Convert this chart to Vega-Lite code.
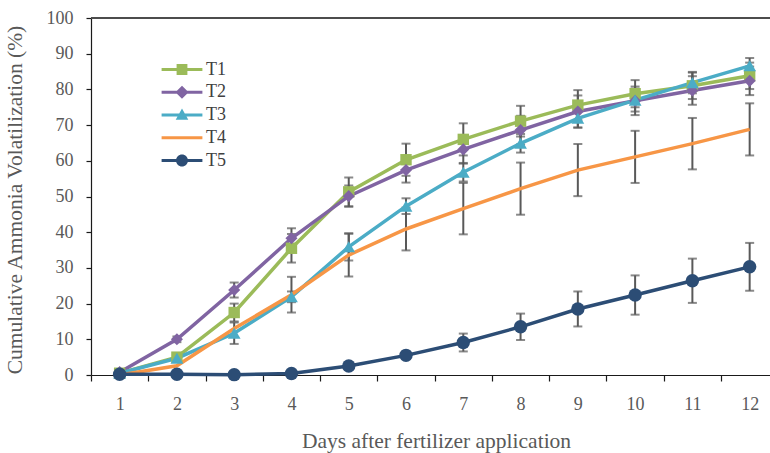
{
  "$schema": "https://vega.github.io/schema/vega-lite/v6.json",
  "width": 679,
  "height": 357,
  "autosize": {"type": "none"},
  "padding": {"left": 91, "top": 18, "right": 0, "bottom": 78},
  "background": "white",
  "config": {
    "view": {"stroke": null},
    "font": "Liberation Serif",
    "axis": {
      "grid": false,
      "domainColor": "#1a1a1a",
      "tickColor": "#1a1a1a",
      "domainWidth": 1.2,
      "tickWidth": 1.2,
      "labelColor": "#595959",
      "labelFont": "Liberation Serif",
      "labelFontSize": 18,
      "titleColor": "#595959",
      "titleFont": "Liberation Serif",
      "titleFontSize": 21.5,
      "titleFontWeight": "normal"
    }
  },
  "data": {
    "values": [
      {"day": 1, "series": "T1", "value": 0.5, "err": 0},
      {"day": 2, "series": "T1", "value": 5.0, "err": 0.8},
      {"day": 3, "series": "T1", "value": 17.5, "err": 2.5},
      {"day": 4, "series": "T1", "value": 35.5, "err": 4.0},
      {"day": 5, "series": "T1", "value": 51.3, "err": 4.0},
      {"day": 6, "series": "T1", "value": 60.3, "err": 4.5},
      {"day": 7, "series": "T1", "value": 66.0, "err": 4.5},
      {"day": 8, "series": "T1", "value": 71.1, "err": 4.3},
      {"day": 9, "series": "T1", "value": 75.6, "err": 4.2},
      {"day": 10, "series": "T1", "value": 78.8, "err": 3.8},
      {"day": 11, "series": "T1", "value": 81.0, "err": 3.7},
      {"day": 12, "series": "T1", "value": 83.8, "err": 3.7},
      {"day": 1, "series": "T2", "value": 0.8, "err": 0},
      {"day": 2, "series": "T2", "value": 10.0, "err": 0.8},
      {"day": 3, "series": "T2", "value": 23.8, "err": 2.1},
      {"day": 4, "series": "T2", "value": 38.3, "err": 2.8},
      {"day": 5, "series": "T2", "value": 50.1, "err": 3.0},
      {"day": 6, "series": "T2", "value": 57.4, "err": 3.5},
      {"day": 7, "series": "T2", "value": 63.2, "err": 4.0},
      {"day": 8, "series": "T2", "value": 68.6, "err": 4.0},
      {"day": 9, "series": "T2", "value": 73.8, "err": 4.5},
      {"day": 10, "series": "T2", "value": 76.8, "err": 4.0},
      {"day": 11, "series": "T2", "value": 79.7, "err": 4.0},
      {"day": 12, "series": "T2", "value": 82.4, "err": 4.0},
      {"day": 1, "series": "T3", "value": 0.5, "err": 0},
      {"day": 2, "series": "T3", "value": 4.7, "err": 0.8},
      {"day": 3, "series": "T3", "value": 11.7, "err": 3.0},
      {"day": 4, "series": "T3", "value": 21.9, "err": 1.5},
      {"day": 5, "series": "T3", "value": 35.9, "err": 3.8},
      {"day": 6, "series": "T3", "value": 47.3, "err": 2.2},
      {"day": 7, "series": "T3", "value": 56.8, "err": 2.6},
      {"day": 8, "series": "T3", "value": 64.9, "err": 2.6},
      {"day": 9, "series": "T3", "value": 71.9, "err": 2.6},
      {"day": 10, "series": "T3", "value": 77.0, "err": 3.2},
      {"day": 11, "series": "T3", "value": 81.9, "err": 3.0},
      {"day": 12, "series": "T3", "value": 86.6, "err": 2.2},
      {"day": 1, "series": "T4", "value": 0.0, "err": 0},
      {"day": 2, "series": "T4", "value": 2.6, "err": 0},
      {"day": 3, "series": "T4", "value": 13.0, "err": 0},
      {"day": 4, "series": "T4", "value": 22.5, "err": 5.0},
      {"day": 5, "series": "T4", "value": 33.6, "err": 6.0},
      {"day": 6, "series": "T4", "value": 40.9, "err": 6.0},
      {"day": 7, "series": "T4", "value": 46.6, "err": 7.2},
      {"day": 8, "series": "T4", "value": 52.2, "err": 7.3},
      {"day": 9, "series": "T4", "value": 57.4, "err": 7.3},
      {"day": 10, "series": "T4", "value": 61.1, "err": 7.3},
      {"day": 11, "series": "T4", "value": 64.8, "err": 7.2},
      {"day": 12, "series": "T4", "value": 68.8, "err": 7.3},
      {"day": 1, "series": "T5", "value": 0.2, "err": 0},
      {"day": 2, "series": "T5", "value": 0.2, "err": 0},
      {"day": 3, "series": "T5", "value": 0.1, "err": 0},
      {"day": 4, "series": "T5", "value": 0.4, "err": 0},
      {"day": 5, "series": "T5", "value": 2.5, "err": 0.3},
      {"day": 6, "series": "T5", "value": 5.5, "err": 0.8},
      {"day": 7, "series": "T5", "value": 9.1, "err": 2.5},
      {"day": 8, "series": "T5", "value": 13.5, "err": 3.7},
      {"day": 9, "series": "T5", "value": 18.5, "err": 4.9},
      {"day": 10, "series": "T5", "value": 22.4, "err": 5.5},
      {"day": 11, "series": "T5", "value": 26.4, "err": 6.2},
      {"day": 12, "series": "T5", "value": 30.3, "err": 6.7}
    ]
  },
  "encoding": {
    "x": {
      "field": "day",
      "type": "ordinal",
      "sort": "ascending",
      "scale": {"type": "band", "paddingInner": 0, "paddingOuter": 0, "range": [0, 687.3]},
      "axis": {
        "title": "Days after fertilizer application",
        "titleX": 345,
        "tickBand": "extent",
        "labelAngle": 0,
        "labelFlush": false,
        "labelOverlap": false,
        "tickSize": 6,
        "labelPadding": 14,
        "titlePadding": 17
      }
    },
    "y": {
      "field": "value",
      "type": "quantitative",
      "scale": {"domain": [0, 100], "nice": false},
      "axis": {
        "title": "Cumulative Ammonia Volatilization (%)",
        "titleY": 181.5,
        "values": [0, 10, 20, 30, 40, 50, 60, 70, 80, 90, 100],
        "tickSize": 5,
        "labelPadding": 13,
        "titlePadding": 20,
        "labelFlush": false
      }
    }
  },
  "layer": [
    {
      "mark": {"type": "rule", "color": "#4d4d4d", "strokeWidth": 1.3},
      "encoding": {"x": null, "y": {"datum": 100}}
    },
    {
      "transform": [{"filter": "datum.err > 0"}],
      "mark": {
        "type": "errorbar",
        "color": "#595959",
        "ticks": {"size": 9, "thickness": 2, "color": "#595959"},
        "rule": {"strokeWidth": 2, "color": "#595959"}
      },
      "encoding": {
        "yError": {"field": "err"}
      }
    },
    {
      "mark": {"type": "line", "strokeWidth": 3.5},
      "encoding": {
        "color": {
          "field": "series",
          "type": "nominal",
          "scale": {
            "domain": ["T1", "T2", "T3", "T4", "T5"],
            "range": ["#9BBB59", "#8064A2", "#4BACC6", "#F79646", "#2C4D75"]
          },
          "legend": {
            "orient": "none",
            "legendX": 82,
            "legendY": 42.5,
            "title": null,
            "padding": 0,
            "labelFont": "Liberation Serif",
            "labelFontSize": 18,
            "labelColor": "#404040",
            "labelOffset": 15,
            "rowPadding": 4.75,
            "symbolSize": 144,
            "encode": {
              "symbols": {
                "update": {
                  "shape": {"signal": "datum.value === 'T1' ? 'M-3.4,-0.25H3.4V0.25H-3.4Z M-0.9,-0.9H0.9V0.9H-0.9Z' : datum.value === 'T2' ? 'M-3.4,-0.25H3.4V0.25H-3.4Z M0,-1.1L1.1,0L0,1.1L-1.1,0Z' : datum.value === 'T3' ? 'M-3.4,-0.25H3.4V0.25H-3.4Z M0,-1.1L1.05,0.8H-1.05Z' : datum.value === 'T4' ? 'M-3.4,-0.25H3.4V0.25H-3.4Z' : 'M-3.4,-0.25H3.4V0.25H-3.4Z M-1,0A1,1 0 1,1 1,0A1,1 0 1,1 -1,0Z'"},
                  "fill": {"signal": "datum.value === 'T1' ? '#9BBB59' : datum.value === 'T2' ? '#8064A2' : datum.value === 'T3' ? '#4BACC6' : datum.value === 'T4' ? '#F79646' : '#2C4D75'"},
                  "stroke": {"value": "transparent"},
                  "strokeWidth": {"value": 0},
                  "opacity": {"value": 1},
                  "size": {"value": 144}
                }
              }
            }
          }
        }
      }
    },
    {
      "transform": [{"filter": "datum.series !== 'T4'"}],
      "mark": {"type": "point", "filled": true, "opacity": 1},
      "encoding": {
        "color": {
          "field": "series",
          "type": "nominal",
          "scale": {
            "domain": ["T1", "T2", "T3", "T4", "T5"],
            "range": ["#9BBB59", "#8064A2", "#4BACC6", "#F79646", "#2C4D75"]
          },
          "legend": null
        },
        "shape": {
          "field": "series",
          "type": "nominal",
          "scale": {
            "domain": ["T1", "T2", "T3", "T5"],
            "range": ["square", "diamond", "triangle-up", "circle"]
          },
          "legend": null
        },
        "size": {
          "field": "series",
          "type": "nominal",
          "scale": {
            "domain": ["T1", "T2", "T3", "T5"],
            "range": [130, 180, 170, 175]
          },
          "legend": null
        }
      }
    }
  ]
}
